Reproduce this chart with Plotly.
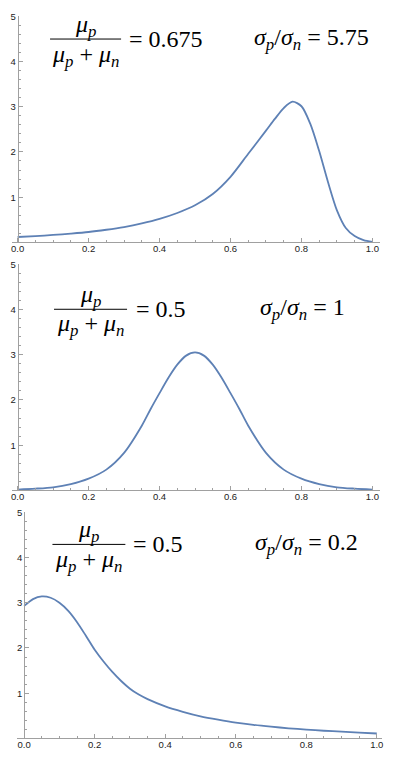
import plotly.graph_objects as go

# ---- data ----
x_top = [0.0, 0.05, 0.1, 0.15, 0.2, 0.25, 0.3, 0.35, 0.4, 0.45, 0.5, 0.55, 0.6, 0.65, 0.7,
         0.725, 0.75, 0.775, 0.8, 0.825, 0.85, 0.875, 0.9, 0.925, 0.95, 0.975, 1.0]
y_top = [0.12, 0.14, 0.165, 0.195, 0.23, 0.28, 0.34, 0.42, 0.52, 0.65, 0.82, 1.07, 1.45, 1.96, 2.47,
         2.73, 2.97, 3.11, 3.01, 2.62, 2.02, 1.33, 0.71, 0.32, 0.14, 0.05, 0.01]

x_mid = [0.0, 0.05, 0.1, 0.15, 0.2, 0.25, 0.3, 0.35, 0.375, 0.4, 0.425, 0.45, 0.475, 0.5,
         0.525, 0.55, 0.575, 0.6, 0.625, 0.65, 0.7, 0.75, 0.8, 0.85, 0.9, 0.95, 1.0]
y_mid = [0.02, 0.04, 0.07, 0.14, 0.26, 0.46, 0.83, 1.43, 1.80, 2.15, 2.49, 2.78, 2.98, 3.05,
         2.98, 2.78, 2.49, 2.15, 1.80, 1.43, 0.83, 0.46, 0.26, 0.14, 0.07, 0.04, 0.02]

x_bot = [0.0, 0.025, 0.05, 0.075, 0.1, 0.125, 0.15, 0.175, 0.2, 0.225, 0.25, 0.275, 0.3,
         0.325, 0.35, 0.4, 0.45, 0.5, 0.55, 0.6, 0.65, 0.7, 0.75, 0.8, 0.85, 0.9, 0.95, 1.0]
y_bot = [2.93, 3.08, 3.14, 3.11, 3.0, 2.82, 2.57, 2.27, 1.96, 1.70, 1.47, 1.27, 1.10,
         0.97, 0.87, 0.71, 0.59, 0.49, 0.415, 0.35, 0.30, 0.26, 0.225, 0.195, 0.17, 0.15, 0.128, 0.11]

x_ticks = [0.0, 0.2, 0.4, 0.6, 0.8, 1.0]
x_tick_text = ["0.0", "0.2", "0.4", "0.6", "0.8", "1.0"]
y_ticks = [1, 2, 3, 4, 5]
y_tick_text = ["1", "2", "3", "4", "5"]

ratio_labels = ["0.675", "0.5", "0.5"]
sigma_labels = ["5.75", "1", "0.2"]

W, H = 395, 758
LINE_COLOR = "#5E81B5"
AXIS_COLOR = "#a0a0a0"
LABEL_COLOR = "#222222"

x_minor = [round(i * 0.05, 2) for i in range(21) if i % 4 != 0]
y_minor = [round(i * 0.2, 1) for i in range(26) if i % 5 != 0]

# panel pixel geometry
panels = [
    dict(x0=16.7, sx=356.6, left=10.7, right=380.7, ybase=238.3),
    dict(x0=16.7, sx=356.6, left=10.7, right=380.7, ybase=488.3),
    dict(x0=23.3, sx=354.4, left=16.0, right=383.0, ybase=738.3),
]
YSCALE = 45.6

datasets = [(x_top, y_top), (x_mid, y_mid), (x_bot, y_bot)]

fig = go.Figure()
layout = dict(
    width=W, height=H, margin=dict(l=0, r=0, t=0, b=0),
    paper_bgcolor="white", plot_bgcolor="white", showlegend=False,
)

tick_font = dict(family="Liberation Sans, Arial", size=9.5, color=LABEL_COLOR)
for i, (p, (xs, ys)) in enumerate(zip(panels, datasets)):
    n = "" if i == 0 else str(i + 1)
    fig.add_trace(go.Scatter(x=xs, y=ys, mode="lines",
                             line=dict(color=LINE_COLOR, width=1.8, shape="spline", smoothing=0.8),
                             xaxis="x" + n, yaxis="y" + n, hoverinfo="skip"))
    xr = [(p["left"] - p["x0"]) / p["sx"], (p["right"] - p["x0"]) / p["sx"]]
    ytop = p["ybase"] - 5 * YSCALE
    layout["xaxis" + n] = dict(
        domain=[p["left"] / W, p["right"] / W], range=xr, anchor="y" + n,
        showline=True, linecolor=AXIS_COLOR, linewidth=1,
        ticks="inside", ticklen=4, tickcolor=AXIS_COLOR, tickwidth=1,
        tickvals=x_ticks, ticktext=x_tick_text, tickfont=tick_font,
        ticklabelstandoff=-3,
        minor=dict(tickvals=x_minor, ticks="inside", ticklen=2, tickcolor=AXIS_COLOR),
        showgrid=False, zeroline=False, fixedrange=True,
    )
    layout["yaxis" + n] = dict(
        domain=[1 - p["ybase"] / H, 1 - ytop / H], range=[0, 5],
        anchor="free", position=p["x0"] / W,
        showline=True, linecolor=AXIS_COLOR, linewidth=1,
        ticks="inside", ticklen=4, tickcolor=AXIS_COLOR, tickwidth=1,
        tickvals=y_ticks, ticktext=y_tick_text, tickfont=tick_font,
        minor=dict(tickvals=y_minor, ticks="inside", ticklen=2, tickcolor=AXIS_COLOR),
        showgrid=False, zeroline=False, fixedrange=True,
    )

fig.update_layout(**layout)

# ---- math-style annotations ----
SERIF = "Liberation Serif, Times New Roman, serif"
FS = 24
mu_p = "<i>μ</i><sub><i>p</i></sub>"
mu_n = "<i>μ</i><sub><i>n</i></sub>"
sig_p = "<i>σ</i><sub><i>p</i></sub>"
sig_n = "<i>σ</i><sub><i>n</i></sub>"

label_pos = [
    dict(fx0=49.3, fx1=120.7, fy=33.3, num_y=20, den_y=50, eq_x=127, sig_x=252),
    dict(fx0=53.3, fx1=126.7, fy=305.7, num_y=292, den_y=322, eq_x=134, sig_x=258),
    dict(fx0=51.7, fx1=125.0, fy=542.7, num_y=529, den_y=559, eq_x=131, sig_x=253),
]

shapes = []
annotations = []
for lp, r, s in zip(label_pos, ratio_labels, sigma_labels):
    cx = (lp["fx0"] + lp["fx1"]) / 2
    shapes.append(dict(type="line", xref="paper", yref="paper",
                       x0=lp["fx0"] / W, x1=lp["fx1"] / W,
                       y0=1 - lp["fy"] / H, y1=1 - lp["fy"] / H,
                       line=dict(color="black", width=1)))
    common = dict(xref="paper", yref="paper", showarrow=False,
                  font=dict(family=SERIF, size=FS, color="black"), yanchor="middle")
    annotations.append(dict(text=mu_p, x=cx / W, y=1 - lp["num_y"] / H, xanchor="center", **common))
    annotations.append(dict(text=mu_p + " + " + mu_n, x=cx / W, y=1 - lp["den_y"] / H,
                            xanchor="center", **common))
    annotations.append(dict(text="= " + r, x=lp["eq_x"] / W, y=1 - lp["fy"] / H,
                            xanchor="left", **common))
    annotations.append(dict(text=sig_p + "/" + sig_n + " = " + s, x=lp["sig_x"] / W,
                            y=1 - lp["fy"] / H, xanchor="left", **common))

fig.update_layout(shapes=shapes, annotations=annotations)

fig.write_html("out.html", config={"displayModeBar": False},
               post_script="document.body.style.margin='0';")
